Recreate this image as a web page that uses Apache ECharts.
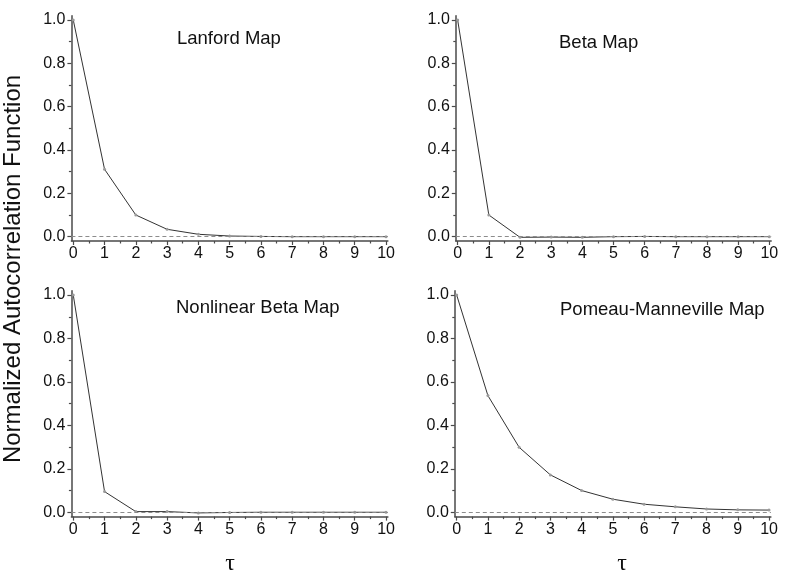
<!DOCTYPE html>
<html>
<head>
<meta charset="utf-8">
<script src="https://cdn.jsdelivr.net/npm/echarts@6/dist/echarts.min.js"></script>
<style>
  html, body { margin: 0; padding: 0; background: #fff; }
  #chart { width: 788px; height: 577px; }
</style>
</head>
<body>
<div id="chart"></div>
<script>
// lag values (tau) and the four autocorrelation curves
const taus = [0, 1, 2, 3, 4, 5, 6, 7, 8, 9, 10];
const lanford = [1.0, 0.311, 0.10, 0.034, 0.011, 0.003, 0.001, 0.0, 0.0, 0.0, 0.0];
const beta = [1.0, 0.10, -0.003, -0.002, -0.003, 0.0, 0.001, 0.0, 0.0, 0.0, 0.0];
const nonlinearBeta = [1.0, 0.095, 0.003, 0.003, -0.003, -0.001, 0.0, 0.0, 0.0, 0.0, 0.0];
const pomeau = [1.0, 0.537, 0.299, 0.172, 0.10, 0.06, 0.037, 0.025, 0.015, 0.011, 0.01];
const panelTitles = ["Lanford Map", "Beta Map", "Nonlinear Beta Map", "Pomeau-Manneville Map"];
const xTickLabels = [0, 1, 2, 3, 4, 5, 6, 7, 8, 9, 10];
const xMinorTicks = [0.5, 1.5, 2.5, 3.5, 4.5, 5.5, 6.5, 7.5, 8.5, 9.5];
const yTickLabels = [0, 0.2, 0.4, 0.6, 0.8, 1.0];
const yMinorTicks = [0.1, 0.3, 0.5, 0.7, 0.9];

const allSeries = [lanford, beta, nonlinearBeta, pomeau];
const font = "'Liberation Sans', Arial, sans-serif";
const axisColor = "#4a4a4a";

const grids = [
  { left: 71.4, top: 15.7, width: 316.5, height: 225.3 },
  { left: 455.8, top: 15.7, width: 315.4, height: 225.3 },
  { left: 71.4, top: 290.7, width: 316.5, height: 225.9 },
  { left: 454.8, top: 290.7, width: 316.1, height: 225.9 }
];
const titlePos = [
  { left: 177, top: 29 },
  { left: 559, top: 33 },
  { left: 176, top: 298 },
  { left: 560, top: 300 }
];

const chart = echarts.init(document.getElementById("chart"), null, { renderer: "canvas" });

const xAxes = [];
const yAxes = [];
const series = [];
grids.forEach((g, i) => {
  // main axes: line, major ticks, labels
  xAxes.push({
    type: "value", gridIndex: i, position: "bottom", min: -0.06, max: 10.06,
    splitLine: { show: false },
    axisLine: { onZero: false, lineStyle: { color: axisColor, width: 1.5 } },
    axisTick: { show: true, length: 4, customValues: xTickLabels, lineStyle: { color: axisColor, width: 1.2 } },
    axisLabel: { customValues: xTickLabels, margin: 5, color: "#111", fontSize: 16, fontFamily: font }
  });
  yAxes.push({
    type: "value", gridIndex: i, position: "left", min: -0.02, max: 1.02,
    splitLine: { show: false },
    axisLine: { show: true, onZero: false, lineStyle: { color: axisColor, width: 1.5 } },
    axisTick: { show: true, length: 4, customValues: yTickLabels, lineStyle: { color: axisColor, width: 1.2 } },
    axisLabel: {
      customValues: yTickLabels, margin: 6, color: "#111", fontSize: 16, fontFamily: font,
      formatter: v => v.toFixed(1)
    }
  });
});
grids.forEach((g, i) => {
  // minor ticks drawn by a second, line-less axis on the same grid
  xAxes.push({
    type: "value", gridIndex: i, position: "bottom", offset: 0, min: -0.06, max: 10.06,
    splitLine: { show: false },
    axisLine: { show: false, onZero: false },
    axisTick: { show: true, length: 2.5, customValues: xMinorTicks, lineStyle: { color: axisColor, width: 1.2 } },
    axisLabel: { show: false }
  });
  yAxes.push({
    type: "value", gridIndex: i, position: "left", offset: 0, min: -0.02, max: 1.02,
    splitLine: { show: false },
    axisLine: { show: false, onZero: false },
    axisTick: { show: true, length: 2.5, customValues: yMinorTicks, lineStyle: { color: axisColor, width: 1.2 } },
    axisLabel: { show: false }
  });
});

allSeries.forEach((vals, i) => {
  series.push({
    type: "line",
    name: panelTitles[i],
    xAxisIndex: i,
    yAxisIndex: i,
    data: taus.map((t, k) => [t, vals[k]]),
    symbol: "circle",
    symbolSize: 3,
    showSymbol: true,
    itemStyle: { color: "#9a9a9a" },
    lineStyle: { color: "#333", width: 1 },
    markLine: {
      silent: true,
      symbol: "none",
      label: { show: false },
      lineStyle: { color: "#8c8c8c", type: [4, 3], width: 1 },
      data: [{ yAxis: 0 }]
    },
    z: 3
  });
});

const option = {
  animation: false,
  backgroundColor: "#fff",
  grid: grids.map(g => Object.assign({ containLabel: false, outerBoundsMode: "none" }, g)),
  title: panelTitles.map((t, i) => ({
    text: t,
    left: titlePos[i].left,
    top: titlePos[i].top,
    padding: 0,
    textStyle: { fontSize: 18.5, fontWeight: "normal", color: "#111", fontFamily: font }
  })),
  xAxis: xAxes,
  yAxis: yAxes,
  series: series,
  graphic: [
    {
      type: "text",
      x: 13, y: 269,
      rotation: Math.PI / 2,
      style: {
        text: "Normalized Autocorrelation Function",
        font: "24px " + font,
        fill: "#111",
        align: "center",
        verticalAlign: "middle"
      }
    },
    {
      type: "text",
      x: 230, y: 564,
      style: { text: "τ", font: "24px 'Liberation Serif', 'Times New Roman', serif", fill: "#111", align: "center", verticalAlign: "middle" }
    },
    {
      type: "text",
      x: 622, y: 564,
      style: { text: "τ", font: "24px 'Liberation Serif', 'Times New Roman', serif", fill: "#111", align: "center", verticalAlign: "middle" }
    }
  ]
};
chart.setOption(option);
</script>
</body>
</html>
